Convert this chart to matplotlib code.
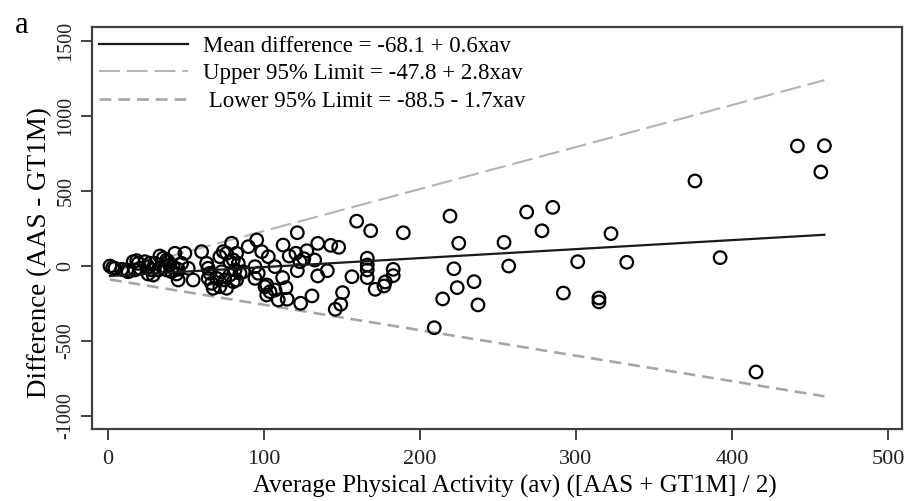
import numpy as np
import matplotlib
matplotlib.use("Agg")
import matplotlib.pyplot as plt

# average of the two monitors (x) and their difference (y)
av = [1.5, 3.2, 4.7, 9.0, 12.2, 13.2, 16.4, 18.6, 17.5, 19.6, 20.7, 23.9, 27.1, 26.0,
      28.2, 26.0, 29.2, 30.3, 32.4, 33.5, 35.6, 36.7, 37.8, 38.8, 39.9, 37.8, 42.0, 41.0,
      43.1, 45.2, 45.2, 44.2,
      49.5, 51.6, 54.8, 47.4, 60.2, 63.4, 64.4, 65.5, 64.4, 66.6, 67.6, 69.8, 71.9, 74.1,
      76.2, 79.4, 78.3, 80.5, 82.6, 83.7, 81.6, 84.8, 82.6, 75.1, 78.3, 73.0, 71.9, 76.2,
      80.5, 86.9, 90.1, 95.5, 98.7, 102.9, 94.4, 96.5, 94.4, 101.9, 107.2, 104.0, 107.2,
      109.3, 100.8, 101.9,
      159.5, 121.5, 168.5, 189.4, 219.3, 224.9, 268.4, 285.1, 278.2, 253.9, 256.9, 221.8,
      223.9, 234.7, 237.2, 214.6, 209.2, 166.3, 166.3, 166.3, 166.3, 156.5, 171.4, 177.0,
      177.8, 182.9, 182.9, 150.5, 149.3, 145.8, 140.7, 134.6, 130.9, 123.6, 115.0, 114.2,
      112.1, 121.5, 132.6, 125.7, 127.6, 134.6, 142.9, 148.0, 120.6, 116.3, 112.4, 123.2,
      441.8, 459.1, 456.8, 376.2, 322.4, 301.1, 332.5, 392.3, 291.9, 314.7, 314.7, 415.3]
diff = [-1, -12, -16, -23, -27, -39, 28, 35, -27, 17, -16, 28, 17, -5,
        -27, -54, -61, 17, -27, 66, 51, -5, 39, 28, 6, -27, -5, -39,
        84, -23, -94, -54,
        84, -16, -94, 17, 95, 17, -16, -49, -83, -116, -149, -83, 61, 95,
        84, 151, 28, 39, 84, 17, -27, -49, -94, -94, -61, -39, -139, -149,
        -105, -39, 128, 173, 95, 61, -5, -49, -83, -127, -5, -172, -161,
        -227, -139, -194,
        298, 221, 234, 221, 332, 151, 359, 390, 234, 157, -1, -19,
        -145, -105, -260, -220, -412, 51, 6, -27, -78, -72, -156, -134,
        -107, -23, -65, -178, -256, -289, -32, -67, -200, -249, -222, -145,
        -78, -32, 39, 48, 101, 150, 137, 124, 84, 66, 139, 28,
        799, 801, 626, 566, 215, 28, 24, 55, -181, -214, -240, -707]

# regression lines: intercept, slope
mean_coef = (-68.1, 0.6)
upper_coef = (-47.8, 2.8)
lower_coef = (-88.5, -1.7)
labels = ["Mean difference = -68.1 + 0.6xav",
          "Upper 95% Limit = -47.8 + 2.8xav",
          " Lower 95% Limit = -88.5 - 1.7xav"]

x_ticks = [0, 100, 200, 300, 400, 500]
y_ticks = [-1000, -500, 0, 500, 1000, 1500]

plt.rcParams["font.family"] = ["Liberation Serif", "DejaVu Serif"]
plt.rcParams["lines.scale_dashes"] = False

fig = plt.figure(figsize=(9.1, 5.01), dpi=100)
ax = fig.add_axes([0.1011, 0.1437, 0.8896, 0.8024])

xs = np.array([min(av), max(av)])
ax.scatter(av, diff, s=82, facecolors="none", edgecolors="black", linewidths=1.6, zorder=3)
ax.plot(xs, mean_coef[0] + mean_coef[1] * xs, color="#1a1a1a", lw=1.6, label=labels[0], zorder=4)
ax.plot(xs, upper_coef[0] + upper_coef[1] * xs, color="#b3b3b3", lw=1.5,
        dashes=(15, 5), label=labels[1])
ax.plot(xs, lower_coef[0] + lower_coef[1] * xs, color="#a6a6a6", lw=1.9,
        dashes=(8.5, 5), label=labels[2])

ax.set_xlim(-10, 508.5)
ax.set_ylim(-1087, 1592)
ax.set_xticks(x_ticks)
ax.set_yticks(y_ticks)
ax.set_yticklabels([str(t) for t in y_ticks], rotation=90, va="center")
ax.tick_params(direction="out", length=8, width=1.2, colors="#222222")
ax.tick_params(axis="x", labelsize=16, pad=7)
ax.tick_params(axis="y", labelsize=14.5, pad=4)
for side in ["top", "bottom", "left", "right"]:
    ax.spines[side].set_linewidth(1.6)
    ax.spines[side].set_color("#404040")

ax.set_xlabel("Average Physical Activity (av) ([AAS + GT1M] / 2)", fontsize=18, labelpad=0)
ax.set_ylabel("Difference (AAS - GT1M)", fontsize=19.5, labelpad=2)
ax.xaxis.set_label_coords(0.522, -0.115)
ax.yaxis.set_label_coords(-0.049, 0.44)

leg = ax.legend(loc="upper left", bbox_to_anchor=(0.0, 0.995), frameon=False, fontsize=16.5,
                handlelength=3.9, handletextpad=0.65, labelspacing=0.28, borderpad=0,
                borderaxespad=0.3)

fig.text(0.016, 0.935, "a", fontsize=22)

fig.savefig("out.png", dpi=100)
